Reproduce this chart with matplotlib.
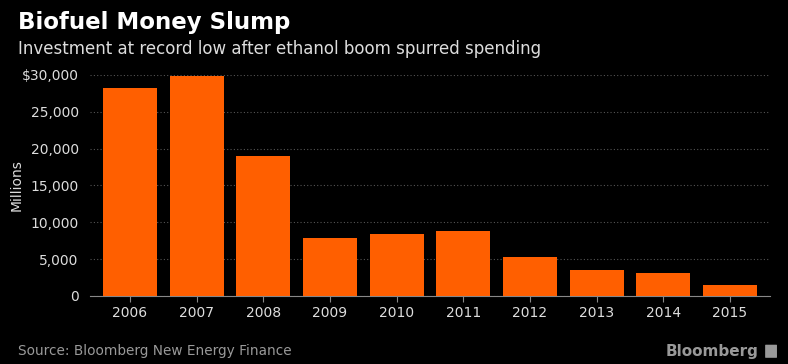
import matplotlib.pyplot as plt
from matplotlib.patches import FancyBboxPatch

# data (USD millions)
years = ["2006", "2007", "2008", "2009", "2010", "2011", "2012", "2013", "2014", "2015"]
investment = [28300, 29800, 19000, 7900, 8400, 8800, 5300, 3500, 3100, 1500]
yticks = [0, 5000, 10000, 15000, 20000, 25000, 30000]
ytick_labels = ["0", "5,000", "10,000", "15,000", "20,000", "25,000", "$30,000"]

bg = "black"
bar_color = "#ff5f00"
text_color = "#dddddd"

fig = plt.figure(figsize=(7.88, 3.64), dpi=100, facecolor=bg)
ax = fig.add_axes([0.114, 0.187, 0.863, 0.607], facecolor=bg)

x = range(len(years))
ax.bar(x, investment, width=0.81, color=bar_color, zorder=3)

ax.set_xlim(-0.6, len(years) - 0.4)
ax.set_ylim(0, 30000)
ax.set_xticks(list(x))
ax.set_xticklabels(years)
ax.set_yticks(yticks)
ax.set_yticklabels(ytick_labels)

ax.grid(axis="y", color="#555555", linestyle=(0, (1, 2)), linewidth=0.8, zorder=0)
for side in ["top", "right", "left"]:
    ax.spines[side].set_visible(False)
ax.spines["bottom"].set_color("#888888")
ax.tick_params(axis="x", colors="#888888", labelcolor=text_color, labelsize=10, length=4)
ax.tick_params(axis="y", length=0, labelcolor=text_color, labelsize=10, pad=8)
ax.set_ylabel("Millions", color=text_color, fontsize=10)
ax.yaxis.set_label_coords(-0.097, 0.5)

# titles and footer
fig.text(0.023, 0.937, "Biofuel Money Slump", color="white", fontsize=16.5,
         fontweight="bold", va="center")
fig.text(0.023, 0.865, "Investment at record low after ethanol boom spurred spending",
         color=text_color, fontsize=12, va="center")
fig.text(0.023, 0.035, "Source: Bloomberg New Energy Finance", color="#999999",
         fontsize=9.8, va="center")
fig.text(0.962, 0.035, "Bloomberg", color="#999999", fontsize=11, fontweight="bold",
         va="center", ha="right")
fig.patches.append(FancyBboxPatch((0.972, 0.018), 0.013, 0.034, boxstyle="round,pad=0.001",
                                  transform=fig.transFigure, facecolor="#999999",
                                  edgecolor="none"))

fig.savefig("out.png", dpi=100, facecolor=bg)
